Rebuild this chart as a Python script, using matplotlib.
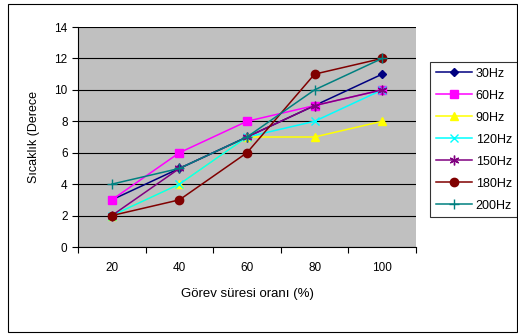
import numpy as np
import matplotlib
matplotlib.use('Agg')
from matplotlib import pyplot as plt
from matplotlib.patches import Rectangle

plt.rcParams['font.family'] = ['Liberation Sans', 'DejaVu Sans']

categories = ['20', '40', '60', '80', '100']
hz30 = [3, 5, 7, 9, 11]
hz60 = [3, 6, 8, 9, 10]
hz90 = [2, 4, 7, 7, 8]
hz120 = [2, 4, 7, 8, 10]
hz150 = [2, 5, 7, 9, 10]
hz180 = [2, 3, 6, 11, 12]
hz200 = [4, 5, 7, 10, 12]

series = [
    ('30Hz', hz30, '#000080', 'D', 4),
    ('60Hz', hz60, '#ff00ff', 's', 6),
    ('90Hz', hz90, '#ffff00', '^', 6),
    ('120Hz', hz120, '#00ffff', 'x', 6),
    ('150Hz', hz150, '#800080', (6, 2, 0), 7),
    ('180Hz', hz180, '#800000', 'o', 6),
    ('200Hz', hz200, '#008080', '+', 7),
]

W, H = 518, 336
fig = plt.figure(figsize=(W/100, H/100), dpi=100)
fig.patches.append(Rectangle((8/W, 4/H), 509/W, 328/H, transform=fig.transFigure,
                             fill=False, edgecolor='black', linewidth=0.8))

ax = fig.add_axes([78/W, (H-247)/H, (416-78)/W, (247-27)/H])
ax.set_facecolor('#c0c0c0')
x = np.arange(len(categories)) + 0.5
for name, y, col, mk, ms in series:
    ax.plot(x, y, color=col, marker=mk, markersize=ms, linewidth=1.1,
            markeredgecolor=col, markerfacecolor=col, label=name)

ax.set_xlim(0, len(categories))
ax.set_ylim(0, 14)
ax.set_yticks(range(0, 15, 2))
ax.yaxis.grid(True, color='black', linewidth=0.8)
ax.set_axisbelow(True)
ax.set_xticks(range(len(categories) + 1))
ax.set_xticklabels([])
ax.set_xticks(x, minor=True)
ax.set_xticklabels(categories, minor=True)
ax.tick_params(axis='x', which='minor', length=0, pad=11)
ax.tick_params(axis='both', which='major', length=4, direction='out', labelsize=8.5)
ax.tick_params(axis='x', which='minor', labelsize=8.5)
for s in ['top', 'right']:
    ax.spines[s].set_visible(False)
for s in ['left', 'bottom']:
    ax.spines[s].set_linewidth(0.8)

ax.set_ylabel('Sıcaklık (Derece', fontsize=9, labelpad=10)
ax.set_xlabel('Görev süresi oranı (%)', fontsize=9.5, labelpad=10)

leg = ax.legend(loc='upper left', bbox_to_anchor=(430/W, (H-62)/H, 87/W, 0),
                bbox_transform=fig.transFigure, fontsize=9, frameon=True,
                fancybox=False, edgecolor='black', borderaxespad=0,
                labelspacing=0.8, handlelength=2.9, borderpad=0.45, handletextpad=0.3)
leg.get_frame().set_linewidth(0.8)

plt.savefig('out.png', dpi=100)
